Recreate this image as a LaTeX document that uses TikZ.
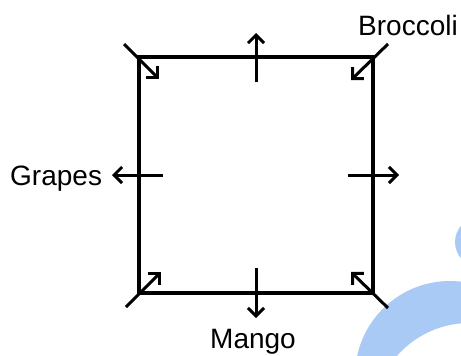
\documentclass[tikz,border=0pt]{standalone}
\usepackage{fontspec}
\setmainfont{Liberation Sans}
\usetikzlibrary{arrows.meta}
\definecolor{wmblue}{RGB}{170,202,246}
\begin{document}
\begin{tikzpicture}[x=1pt,y=-1pt,
  edge/.style={line width=3.2pt,line cap=rect},
  arr/.style={line width=3pt,-{Straight Barb[length=8pt,width=16pt,line width=3pt]}},
  lbl/.style={inner sep=0pt,anchor=base west,font=\fontsize{28}{32}\selectfont}]
\useasboundingbox (0,0) rectangle (461,356);
% watermark
\begin{scope}
\clip (0,0) rectangle (461,356);
\fill[wmblue] (450,376) circle[radius=95];
\fill[white] (470,420) circle[radius=97];
\fill[wmblue] (480,242) circle[radius=25];
\end{scope}
% square corners
\coordinate (tl) at (139,57);
\coordinate (tr) at (373,57);
\coordinate (br) at (373,293);
\coordinate (bl) at (139,293);
\draw[edge] (tl) -- (tr) -- (br) -- (bl) -- cycle;
% arrow endpoints
\coordinate (a1s) at (124,44);  \coordinate (a1e) at (159,79);
\coordinate (a2s) at (388,44);  \coordinate (a2e) at (351,80);
\coordinate (a3s) at (126,307); \coordinate (a3e) at (161,272);
\coordinate (a4s) at (388,308); \coordinate (a4e) at (351,272);
\coordinate (a5s) at (256,82);  \coordinate (a5e) at (256,33);
\coordinate (a6s) at (256,268); \coordinate (a6e) at (256,318);
\coordinate (a7s) at (163,175); \coordinate (a7e) at (112,175);
\coordinate (a8s) at (348,175); \coordinate (a8e) at (399,175);
\foreach \i in {1,...,8} {\draw[arr] (a\i s) -- (a\i e);}
% labels
\node[lbl] (broccoli) at (358,35) {Broccoli};
\node[lbl] (grapes) at (10,185) {Grapes};
\node[lbl] (mango) at (210,348) {Mango};
\end{tikzpicture}
\end{document}
